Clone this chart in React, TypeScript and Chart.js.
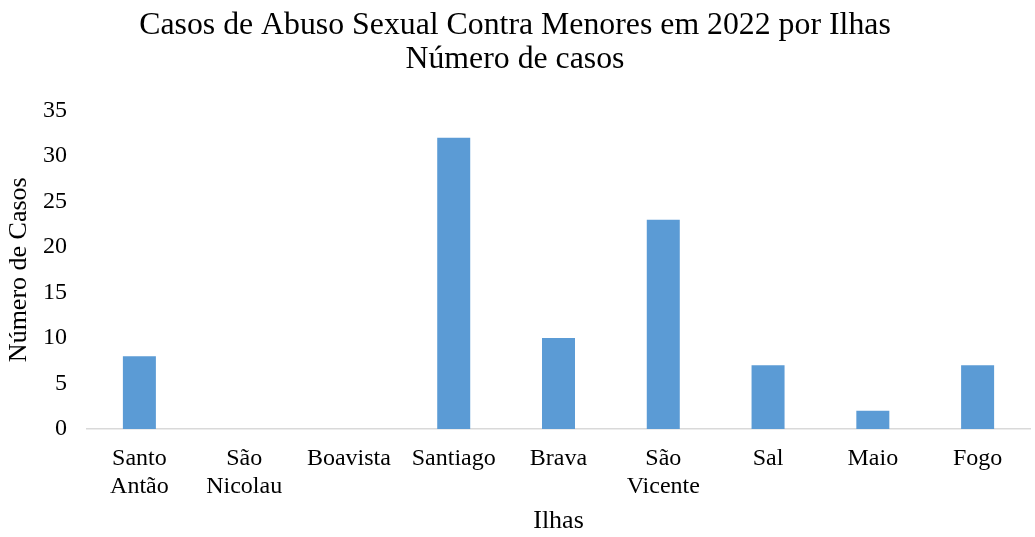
import React, { useEffect, useRef } from "react";
import { Chart, registerables } from "chart.js";

Chart.register(...registerables);

const categories: (string | string[])[] = [
  ["Santo", "Antão"],
  ["São", "Nicolau"],
  "Boavista",
  "Santiago",
  "Brava",
  ["São", "Vicente"],
  "Sal",
  "Maio",
  "Fogo",
];
const casos: number[] = [8, 0, 0, 32, 10, 23, 7, 2, 7];
const titleLines: string[] = [
  "Casos de Abuso Sexual Contra Menores em 2022 por Ilhas",
  "Número de casos",
];
const yTitle = "Número de Casos";
const xTitle = "Ilhas";

const FONT = "'Liberation Serif', 'Times New Roman', serif";

export default function App() {
  const ref = useRef<HTMLCanvasElement | null>(null);
  useEffect(() => {
    if (!ref.current) return;
    const chart = new Chart(ref.current, {
      type: "bar",
      data: {
        labels: categories,
        datasets: [
          {
            label: "Número de casos",
            data: casos,
            backgroundColor: "#5B9BD5",
            barPercentage: 0.315,
            categoryPercentage: 1,
          },
        ],
      },
      options: {
        animation: false,
        responsive: false,
        layout: { padding: { left: 0, right: 5, top: 9, bottom: 0 } },
        plugins: {
          legend: { display: false },
          tooltip: { enabled: false },
          title: {
            display: true,
            text: titleLines,
            color: "#000",
            font: { family: FONT, size: 31.8, weight: "normal", lineHeight: 1.06 },
            padding: { top: 0, bottom: 34 },
          },
        },
        scales: {
          x: {
            grid: { display: false },
            border: { display: true, color: "#D9D9D9", width: 1.5 },
            ticks: {
              color: "#000",
              font: { family: FONT, size: 24, lineHeight: 1.17 },
              padding: 8,
              maxRotation: 0,
              autoSkip: false,
            },
            title: {
              display: true,
              text: xTitle,
              color: "#000",
              font: { family: FONT, size: 26, lineHeight: 1.15 },
              padding: { top: 4, bottom: 1 },
            },
            afterFit: (scale: any) => {
              scale.height = 108;
            },
          },
          y: {
            min: 0,
            max: 35,
            grid: { display: false },
            border: { display: false },
            ticks: {
              stepSize: 5,
              color: "#000",
              font: { family: FONT, size: 24 },
              padding: 12,
            },
            title: {
              display: true,
              text: yTitle,
              color: "#000",
              font: { family: FONT, size: 26, lineHeight: 1.2 },
              padding: { top: 4, bottom: 6 },
            },
            afterFit: (scale: any) => {
              scale.width = 87;
            },
          },
        },
      },
    });
    return () => chart.destroy();
  }, []);
  return (
    <div style={{ position: "fixed", left: 0, top: 0, width: 1035, height: 537, background: "#fff" }}>
      <canvas ref={ref} width={1035} height={537} style={{ display: "block" }} />
    </div>
  );
}
